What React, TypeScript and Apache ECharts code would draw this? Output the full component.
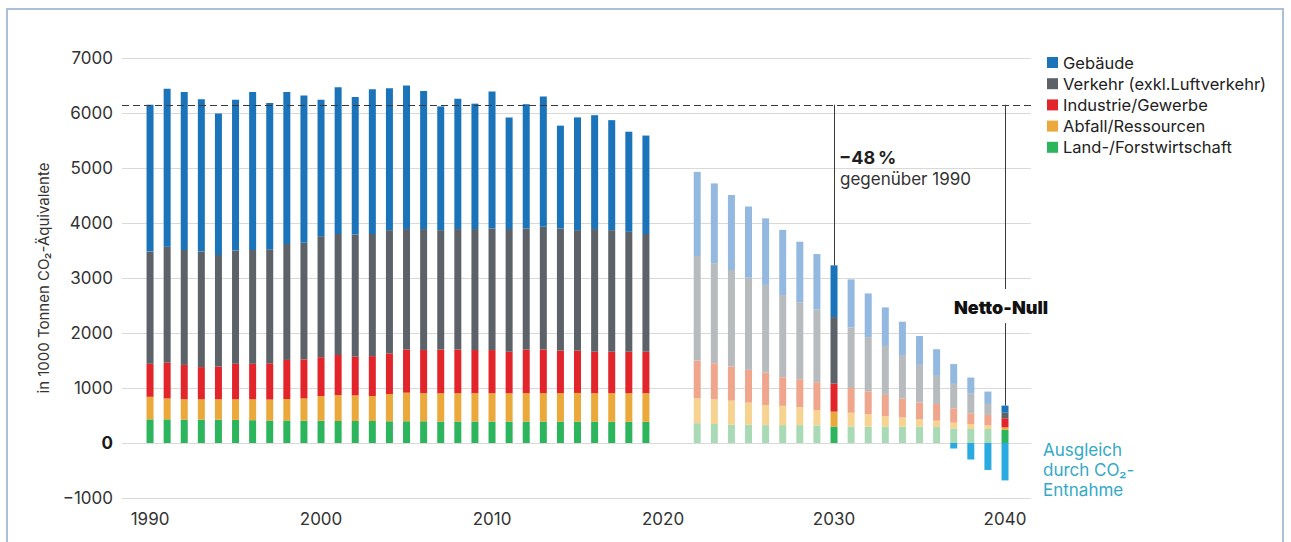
import React, { useEffect, useRef } from "react";
import * as echarts from "echarts";

// Historical years (inventory) and target path years
const histYears = [
  1990, 1991, 1992, 1993, 1994, 1995, 1996, 1997, 1998, 1999,
  2000, 2001, 2002, 2003, 2004, 2005, 2006, 2007, 2008, 2009,
  2010, 2011, 2012, 2013, 2014, 2015, 2016, 2017, 2018, 2019,
];
const projYears = [
  2022, 2023, 2024, 2025, 2026, 2027, 2028, 2029, 2030, 2031,
  2032, 2033, 2034, 2035, 2036, 2037, 2038, 2039, 2040,
];

// Emissions per sector, in 1000 t CO2 equivalents
const histGebaeude = [2670, 2870, 2870, 2770, 2570, 2740, 2870, 2660, 2760, 2680, 2480, 2670, 2500, 2630, 2580, 2610, 2510, 2250, 2370, 2280, 2490, 2030, 2260, 2370, 1870, 2050, 2070, 2000, 1820, 1790];
const histVerkehr = [2040, 2110, 2090, 2100, 2030, 2060, 2070, 2070, 2110, 2120, 2200, 2200, 2220, 2220, 2240, 2190, 2200, 2170, 2190, 2200, 2210, 2230, 2200, 2230, 2220, 2190, 2230, 2210, 2180, 2140];
const histIndustrie = [600, 650, 625, 585, 595, 645, 645, 660, 710, 710, 705, 730, 705, 725, 740, 785, 785, 795, 795, 785, 785, 755, 795, 795, 775, 770, 755, 755, 755, 755];
const histAbfall = [410, 380, 370, 370, 370, 375, 380, 380, 390, 405, 450, 470, 465, 455, 495, 520, 510, 515, 515, 515, 515, 515, 515, 515, 515, 520, 515, 520, 520, 520];
const histLand = [430, 430, 425, 425, 425, 420, 415, 410, 410, 405, 405, 400, 400, 400, 395, 395, 395, 390, 390, 390, 390, 390, 390, 390, 390, 390, 390, 385, 385, 385];

const projGebaeude = [1530, 1450, 1365, 1295, 1210, 1185, 1100, 1005, 940, 875, 795, 700, 605, 525, 485, 360, 285, 225, 130];
const projVerkehr = [1900, 1820, 1755, 1675, 1595, 1495, 1400, 1325, 1210, 1100, 985, 890, 790, 685, 510, 445, 365, 200, 100];
const projIndustrie = [690, 655, 620, 595, 590, 520, 510, 505, 510, 450, 415, 385, 345, 305, 305, 260, 195, 190, 165];
const projAbfall = [450, 450, 440, 405, 365, 350, 325, 280, 270, 250, 230, 195, 170, 135, 115, 105, 90, 65, 45];
const projLand = [360, 345, 330, 330, 325, 325, 325, 320, 300, 300, 295, 295, 295, 295, 290, 265, 255, 255, 240];

// Compensation by CO2 removal
const removalYears = [2037, 2038, 2039, 2040];
const removalValues = [-100, -300, -490, -680];

// Milestone years drawn in full colour
const milestoneYears = [2030, 2040];
const baseline1990 = 6150;

const xTickLabels = [1990, 2000, 2010, 2020, 2030, 2040];

const FONT = "Inter, 'Liberation Sans', Arial, sans-serif";

const sectors = [
  { name: "Land-/Forstwirtschaft", hist: histLand, proj: projLand, color: "#2db55d", light: "#a9dab6" },
  { name: "Abfall/Ressourcen", hist: histAbfall, proj: projAbfall, color: "#eaa93a", light: "#f6d391" },
  { name: "Industrie/Gewerbe", hist: histIndustrie, proj: projIndustrie, color: "#e1252b", light: "#efa68d" },
  { name: "Verkehr (exkl.Luftverkehr)", hist: histVerkehr, proj: projVerkehr, color: "#5c6267", light: "#b8bbbe" },
  { name: "Gebäude", hist: histGebaeude, proj: projGebaeude, color: "#1b74ba", light: "#94b9e0" },
];

const columnTotal = (year: number) => {
  const i = projYears.indexOf(year);
  return sectors.reduce((s, sec) => s + sec.proj[i], 0);
};

// Points are stored as [value, year] so the stacked dimension is the value;
// encode maps them back onto the axes.
const ENCODE = { x: 1, y: 0 };

function buildOption(): any {
  const lineStyle = { type: "solid", color: "#3a3a3a", width: 1 };
  const series: any[] = sectors.map((sec, si) => {
    const data: any[] = [];
    histYears.forEach((y, i) => data.push([sec.hist[i], y]));
    projYears.forEach((y, i) =>
      data.push({
        value: [sec.proj[i], y],
        itemStyle: { color: milestoneYears.includes(y) ? sec.color : sec.light },
      })
    );
    const s: any = {
      name: sec.name,
      type: "bar",
      stack: "total",
      barWidth: 7,
      encode: ENCODE,
      itemStyle: { color: sec.color },
      data,
    };
    if (si === sectors.length - 1) {
      s.markLine = {
        silent: true,
        symbol: ["none", "none"],
        label: { show: false },
        data: [
          { yAxis: baseline1990, lineStyle: { type: [7, 4], color: "#3a3a3a", width: 1 } },
          [
            { coord: [2030, baseline1990], lineStyle },
            { coord: [2030, columnTotal(2030)] },
          ],
          [
            { coord: [2040, baseline1990], lineStyle },
            { coord: [2040, 2800] },
          ],
          [
            { coord: [2040, 2180], lineStyle },
            { coord: [2040, columnTotal(2040)] },
          ],
        ],
      };
    }
    return s;
  });

  series.push({
    name: "CO₂-Entnahme",
    type: "bar",
    stack: "total",
    barWidth: 7,
    encode: ENCODE,
    itemStyle: { color: "#29abe2" },
    data: removalYears.map((y, i) => [removalValues[i], y]),
  });

  return {
    animation: false,
    backgroundColor: "#ffffff",
    textStyle: { fontFamily: FONT },
    grid: { left: 122, right: 260, top: 58, bottom: 44, containLabel: false },
    legend: {
      data: ["Gebäude", "Verkehr (exkl.Luftverkehr)", "Industrie/Gewerbe", "Abfall/Ressourcen", "Land-/Forstwirtschaft"],
      orient: "vertical",
      left: 1042,
      top: 49,
      icon: "rect",
      itemWidth: 11,
      itemHeight: 11,
      itemGap: 4.2,
      selectedMode: false,
      textStyle: { fontFamily: FONT, fontSize: 16.5, color: "#222", lineHeight: 16, padding: [0, 0, 0, 0] },
    },
    xAxis: {
      type: "value",
      min: 1988.36,
      max: 2041.52,
      axisLine: { show: false },
      axisTick: { show: false },
      splitLine: { show: false },
      axisLabel: {
        customValues: xTickLabels,
        fontFamily: FONT,
        fontSize: 17,
        color: "#333",
        margin: 12,
        formatter: (v: number) => String(v),
      },
    },
    yAxis: {
      type: "value",
      min: -1000,
      max: 7000,
      interval: 1000,
      name: "in 1000 Tonnen CO₂-Äquivalente",
      nameLocation: "middle",
      nameGap: 71,
      nameTextStyle: { fontFamily: FONT, fontSize: 15, color: "#333" },
      axisLine: { show: false },
      axisTick: { show: false },
      splitLine: { show: true, lineStyle: { color: "#d9d9d9", width: 1 } },
      axisLabel: {
        fontFamily: FONT,
        fontSize: 17,
        color: "#333",
        margin: 9,
        formatter: (v: number) =>
          v === 0 ? "{z|0}" : v < 0 ? "\u2212" + Math.abs(v) : String(v),
        rich: { z: { fontFamily: FONT, fontSize: 17, fontWeight: "bold", color: "#1a1a1a" } },
      },
    },
    series,
    graphic: [
      {
        type: "rect",
        silent: true,
        shape: { x: 7, y: 9, width: 1276, height: 560 },
        style: { fill: "none", stroke: "#aac0d8", lineWidth: 2 },
      },
      {
        type: "text",
        left: 839,
        top: 148,
        style: { text: "\u221248\u2009%", font: `bold 18px ${FONT}`, fill: "#1e1e1e" },
      },
      {
        type: "text",
        left: 840,
        top: 170,
        style: { text: "gegenüber 1990", font: `17px ${FONT}`, fill: "#333" },
      },
      {
        type: "text",
        x: 1001,
        y: 307,
        style: {
          text: "Netto-Null",
          font: `900 18px ${FONT}`,
          fill: "#111",
          textAlign: "center",
          textVerticalAlign: "middle",
        },
      },
      {
        type: "text",
        left: 1043,
        top: 440,
        style: {
          text: "Ausgleich\ndurch CO₂-\nEntnahme",
          font: `17px ${FONT}`,
          lineHeight: 20,
          fill: "#34a9c6",
        },
      },
    ],
  };
}

export default function App() {
  const ref = useRef<HTMLDivElement>(null);
  useEffect(() => {
    if (!ref.current) return;
    const chart = echarts.init(ref.current, null, { renderer: "svg" });
    chart.setOption(buildOption());
    return () => chart.dispose();
  }, []);
  return (
    <div
      ref={ref}
      style={{ position: "fixed", left: 0, top: 0, width: 1291, height: 542, background: "#fff" }}
    />
  );
}
